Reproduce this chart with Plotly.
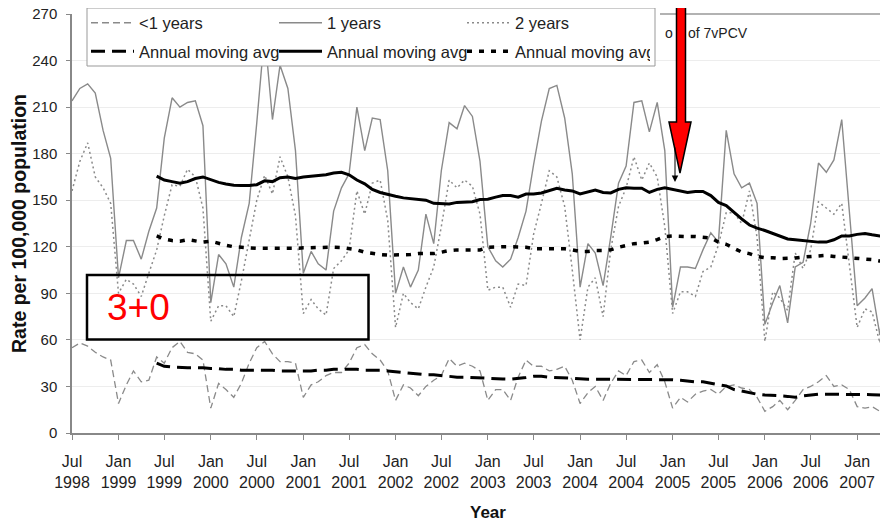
import pandas as pd
import plotly.graph_objects as go

# monthly points, Jul 1998 .. May 2007 (the averages start at Jun 1999)
months = pd.date_range("1998-07-01", "2007-05-01", freq="MS")
avg_months = months[11:]

under1 = [55, 58, 56, 52, 49, 47,
          19, 31, 40, 33, 34, 49, 45, 55, 59, 52, 51, 47,
          16, 32, 28, 23, 32, 45, 55, 59, 51, 46, 46, 45,
          23, 31, 33, 37, 39, 39, 45, 55, 57, 51, 47, 40,
          21, 31, 29, 24, 30, 34, 37, 48, 43, 45, 43, 40,
          21, 28, 28, 21, 36, 47, 43, 43, 40, 41, 43, 34,
          19, 26, 30, 21, 32, 40, 37, 46, 47, 39, 44, 33,
          16, 23, 20, 25, 27, 28, 25, 30, 31, 29, 28, 23,
          14, 17, 21, 15, 21, 28, 30, 33, 37, 30, 31, 28,
          17, 16, 17, 14, 23]
one = [214, 222, 225, 219, 195, 177,
       100, 124, 124, 112, 130, 145, 190, 216, 210, 213, 214, 198,
       84, 115, 109, 94, 126, 148, 200, 258, 202, 237, 222, 182,
       103, 117, 109, 105, 143, 158, 167, 210, 182, 203, 202, 169,
       90, 107, 94, 105, 141, 122, 169, 200, 196, 211, 204, 175,
       120, 111, 107, 112, 126, 143, 173, 201, 222, 224, 203, 167,
       94, 122, 116, 95, 126, 161, 172, 213, 214, 194, 213, 182,
       81, 107, 107, 106, 118, 129, 123, 195, 167, 158, 161, 148,
       70, 84, 95, 71, 107, 110, 135, 174, 168, 176, 202, 141,
       82, 87, 93, 63, 111]
two = [156, 175, 187, 165, 158, 148,
       90, 99, 96, 88, 103, 118, 140, 160, 159, 170, 165, 145,
       72, 82, 82, 75, 98, 124, 150, 166, 154, 178, 165, 140,
       77, 86, 80, 76, 106, 111, 118, 156, 141, 161, 163, 137,
       68, 90, 84, 80, 94, 107, 133, 163, 158, 163, 159, 141,
       92, 94, 94, 81, 96, 95, 128, 148, 169, 165, 146, 105,
       60, 94, 100, 75, 118, 146, 158, 178, 163, 174, 165, 133,
       77, 91, 91, 88, 104, 107, 121, 142, 142, 135, 156, 126,
       59, 91, 87, 79, 116, 106, 118, 149, 145, 141, 148, 107,
       68, 80, 78, 58, 96]
avg_under1 = [45, 43, 42.5, 42, 42, 42, 42,
              41.5, 41.5, 41, 41, 40.5, 40.5, 40.5, 40.5, 40.5, 40, 40, 40,
              40, 40, 40.5, 40.5, 41, 41, 41, 41, 40.5, 40.5, 40.5, 40,
              39.5, 39, 38.5, 38, 37.5, 37.5, 37, 36.5, 36, 36, 35.7, 35.3,
              35, 35, 34.8, 34.7, 35, 35.7, 36.5, 36.5, 36, 35.7, 35.3, 35,
              34.8, 34.7, 34.7, 34.7, 34.7, 34.7, 34.7, 34.7, 34.7, 34.7, 34.7, 34.5,
              34.3, 34, 33.5, 33, 33, 32, 31, 30.3, 28, 27, 26, 25,
              24.5, 24, 24, 23.6, 23, 24, 24.5, 25, 25, 25, 25, 25,
              25, 24.8, 24.7, 24.5, 24.5]
avg_one = [165.5, 163, 162, 161, 162, 164, 165,
           163, 161.5, 160.5, 159.7, 159.5, 159.5, 160, 162.5, 162, 164.5, 165, 164,
           165, 165.5, 165.5, 166.4, 167.5, 168, 166.4, 163, 160.6, 157, 155, 153.6,
           152.6, 151.5, 151, 150.5, 150, 148, 148, 147.6, 148.6, 149, 149, 150.4,
           150.6, 152, 153, 153, 152, 154, 154, 154.7, 156, 157.7, 156.6, 156,
           154, 155.6, 156.6, 155, 154.7, 157, 158, 157.7, 157.7, 155, 157, 158,
           157, 156, 155, 155.6, 155.6, 153, 148.6, 146.5, 142, 138, 134, 132,
           130.5, 128.6, 126.6, 125, 124.6, 124, 123.6, 123, 123, 124.5, 127, 127,
           128, 128.6, 127.7, 127, 127]
avg_two = [127, 125, 124, 123.6, 124.6, 124, 123,
           123.6, 122, 121, 120, 119.5, 119.5, 119, 119, 119, 119, 118.7, 119,
           119.3, 119.5, 119.7, 119.7, 119.7, 119.5, 119, 118, 116.5, 115.6, 115, 114.6,
           114.6, 114.6, 115, 115.6, 115.6, 115.6, 116.5, 117.6, 118, 118, 118, 118,
           119.7, 120, 120, 120, 119.7, 119.7, 118.7, 118.7, 118.7, 118.7, 118.7, 118,
           117, 117, 117.6, 117.6, 118, 119.7, 121, 122, 122.4, 123, 124.6, 126.6,
           127, 126.6, 126.6, 126.6, 126, 125.7, 123, 121.6, 119, 116.6, 115.6, 113.8,
           113, 113, 112.4, 112.4, 112.8, 113.4, 113.8, 114.5, 114.5, 113.8, 113.4, 113,
           112.4, 112.4, 111.7, 110.8, 110]

FONT = "Liberation Sans, Arial, sans-serif"
GREY = "#8a8a8a"

# pixel -> paper helpers, in page pixels (plot area is x 72..888, y 14..433 on the page;
# the page body adds an 8px offset, so the figure is 8px smaller and margins shifted)
def px(x):
    return (x - 72) / 816

def py(y):
    return (433 - y) / 419


fig = go.Figure()
fig.add_trace(go.Scatter(x=months, y=under1, name="<1 years", mode="lines", legend="legend",
                         line=dict(color=GREY, width=1.3, dash="7px,4px")))
fig.add_trace(go.Scatter(x=months, y=one, name="1 years", mode="lines", legend="legend",
                         line=dict(color=GREY, width=1.4)))
fig.add_trace(go.Scatter(x=months, y=two, name="2 years", mode="lines", legend="legend",
                         line=dict(color=GREY, width=1.5, dash="2px,3px")))
fig.add_trace(go.Scatter(x=avg_months, y=avg_under1, name="Annual moving avg", mode="lines", legend="legend2",
                         line=dict(color="black", width=3, dash="14px,7px")))
fig.add_trace(go.Scatter(x=avg_months, y=avg_one, name="Annual moving avg", mode="lines", legend="legend2",
                         line=dict(color="black", width=3)))
fig.add_trace(go.Scatter(x=avg_months, y=avg_two, name="Annual moving avg", mode="lines", legend="legend2",
                         line=dict(color="black", width=3.5, dash="5px,7px")))

legend_style = dict(orientation="h", xanchor="left", yanchor="top", x=px(86),
                    bgcolor="rgba(0,0,0,0)", borderwidth=0, itemwidth=43,
                    entrywidth=130, entrywidthmode="pixels", traceorder="normal",
                    font=dict(family=FONT, size=16.5, color="#222"))

shapes = [
    # top border right of the legend
    dict(type="line", xref="paper", yref="paper", x0=px(660), x1=1, y0=1, y1=1,
         line=dict(color="#999", width=1.5)),
    # legend frame
    dict(type="rect", xref="paper", yref="paper", x0=px(87), x1=px(655), y0=py(66), y1=py(8),
         fillcolor="white", line=dict(color="#999", width=1), layer="above"),
    # "3+0" box
    dict(type="rect", xref="paper", yref="paper", x0=px(87), x1=px(368.5), y0=py(339.5), y1=py(275),
         line=dict(color="black", width=2.5), layer="above"),
    # red arrow
    dict(type="path", xref="paper", yref="paper", layer="above",
         path=(f"M{px(676.5)},{py(-6)} L{px(676.5)},{py(122)} L{px(669)},{py(122)} "
               f"L{px(680)},{py(173)} L{px(691)},{py(122)} L{px(685.5)},{py(122)} "
               f"L{px(685.5)},{py(-6)} Z"),
         fillcolor="#ff0000", line=dict(color="black", width=1.5)),
]

annotations = [
    dict(xref="paper", yref="paper", x=px(19), y=py(224), xanchor="center", yanchor="middle",
         text="<b>Rate per 100,000 population</b>", textangle=-90, showarrow=False,
         font=dict(family=FONT, size=19.5, color="#111")),
    dict(xref="paper", yref="paper", x=px(488.5), y=py(512), xanchor="center", yanchor="middle",
         text="<b>Year</b>", showarrow=False, font=dict(family=FONT, size=17, color="#111")),
    dict(xref="paper", yref="paper", x=px(105), y=py(307), xanchor="left", yanchor="middle",
         text="3+0", showarrow=False, font=dict(family=FONT, size=37, color="#ff0000")),
    dict(xref="paper", yref="paper", x=px(663), y=py(33), xanchor="left", yanchor="middle",
         text="o", showarrow=False, font=dict(family=FONT, size=14, color="#222")),
    dict(xref="paper", yref="paper", x=px(686), y=py(33), xanchor="left", yanchor="middle",
         text="of 7vPCV", showarrow=False, font=dict(family=FONT, size=14, color="#222")),
    dict(xref="paper", yref="paper", x=px(675), y=py(182), text="", showarrow=True,
         ax=0, ay=-36, arrowhead=2, arrowsize=1.3, arrowwidth=1, arrowcolor="black"),
]

fig.update_layout(
    width=880, height=513,
    margin=dict(l=64, r=0, t=6, b=88, autoexpand=False),
    paper_bgcolor="white", plot_bgcolor="white",
    font=dict(family=FONT, color="#222"),
    legend=dict(legend_style, y=py(5.5)),
    legend2=dict(legend_style, y=py(34)),
    shapes=shapes, annotations=annotations,
    xaxis=dict(type="date", range=["1998-07-01", "2007-05-03"], tick0="1998-07-01", dtick="M6",
               tickformat="%b<br>%Y", showgrid=False, showline=True, linecolor="#888", linewidth=2,
               ticks="outside", ticklen=5, tickcolor="#888", ticklabelstandoff=8,
               ticklabeloverflow="allow",
               tickfont=dict(family=FONT, size=16, color="#222")),
    yaxis=dict(range=[0, 270], dtick=30, showgrid=True, gridcolor="#ededed", gridwidth=1,
               showline=True, linecolor="#888", linewidth=1.5, ticks="outside", ticklen=4,
               tickcolor="#888", ticklabelstandoff=6, zeroline=False, ticklabeloverflow="allow",
               tickfont=dict(family=FONT, size=15, color="#222")),
)

fig.write_html("out.html")
